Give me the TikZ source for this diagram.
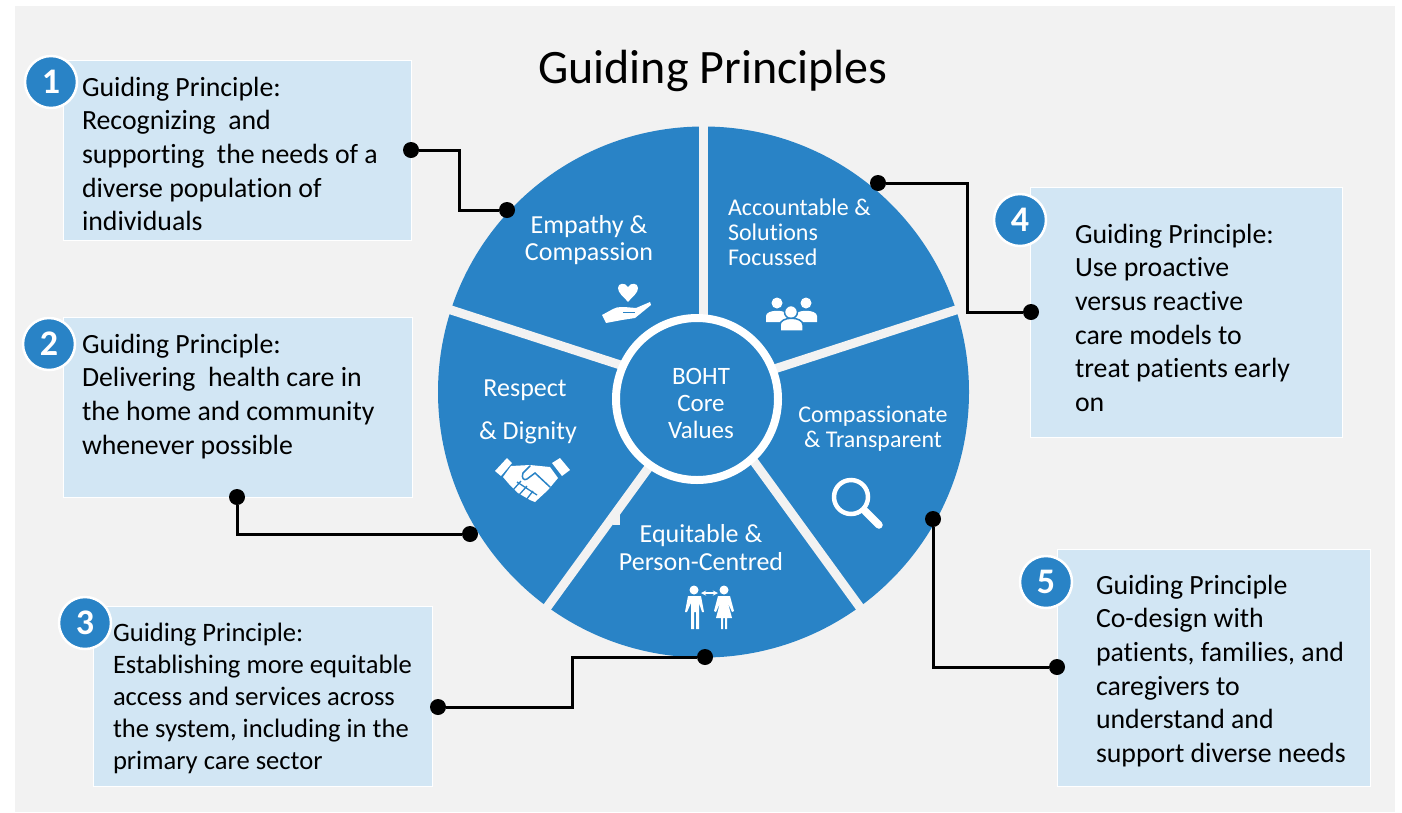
\documentclass[tikz,border=0pt]{standalone}
\usepackage{fontspec}
\setmainfont[RawFeature={-liga,-clig,-dlig}]{Carlito}
\definecolor{wheelblue}{HTML}{2983C6}
\definecolor{boxblue}{HTML}{D2E6F4}
\definecolor{pagegray}{HTML}{F2F2F2}
\begin{document}
\begin{tikzpicture}[x=1pt,y=-1pt]
	\tikzstyle{every node}=[inner sep=0pt,outer sep=0pt]
	\tikzstyle{infobox}=[rectangle,fill=boxblue,draw=white,line width=1pt,anchor=north west]
	\tikzstyle{boxtext}=[anchor=north west,align=left,font=\fontsize{27.8}{33.6}\selectfont]
	\tikzstyle{wheeltext}=[text=white,align=center,font=\fontsize{26}{27}\selectfont]
	\tikzstyle{smalltext}=[text=white,font=\fontsize{24}{25}\selectfont]
	\tikzstyle{badge}=[circle,fill=wheelblue,draw=white,line width=2.5pt,minimum size=52pt,text=white,font=\fontsize{36}{36}\selectfont\bfseries]
	\tikzstyle{pin}=[circle,fill=black,minimum size=16pt]
	\tikzstyle{link}=[black,line width=3pt]
	\tikzstyle{icon}=[fill=white,draw=none]

	\useasboundingbox (0,0) rectangle (1402,812);
	\fill[white] (0,0) rectangle (1402,812);
	\fill[pagegray] (15,6) rectangle (1395,812);

	\node[font=\fontsize{48}{50}\selectfont] (title) at (713,71) {Guiding Principles};

	%Kreis
	\coordinate (hub) at (703.5,392);
	\fill[wheelblue] (hub) circle (265.5);
	\foreach \ang in {-90,-162,-234,-306,-18}
		\draw[pagegray,line width=9pt] (hub) -- +(\ang:275);
	\fill[pagegray] (613,513) rectangle (620,525);
	\draw[fill=wheelblue,draw=white,line width=8pt] (697,399) circle (81);

	%Kaesten
	\node[infobox,minimum width=348pt,minimum height=180pt] (box1) at (63,60) {};
	\node[infobox,minimum width=349pt,minimum height=180pt] (box2) at (63,317) {};
	\node[infobox,minimum width=339pt,minimum height=180pt] (box3) at (93,606) {};
	\node[infobox,minimum width=312pt,minimum height=250pt] (box4) at (1030,187) {};
	\node[infobox,minimum width=313pt,minimum height=237pt] (box5) at (1057,549) {};

	\node[boxtext] (text1) at (82,77) {Guiding Principle:\\Recognizing~ and\\supporting~ the needs of a\\diverse population of\\individuals};
	\node[boxtext] (text2) at (82,334) {Guiding Principle:\\Delivering~ health care in\\the home and community\\whenever possible};
	\node[boxtext,font=\fontsize{26.6}{32}\selectfont] (text3) at (113,623) {Guiding Principle:\\Establishing more equitable\\access and services across\\the system, including in the\\primary care sector};
	\node[boxtext] (text4) at (1075,224) {Guiding Principle:\\Use proactive\\versus reactive\\care models to\\treat patients early\\on};
	\node[boxtext] (text5) at (1096,575) {Guiding Principle\\Co-design with\\patients, families, and\\caregivers to\\understand and\\support diverse needs};

	%Nummern
	\node[badge] (num1) at (51,82) {1};
	\node[badge] (num2) at (49,344) {2};
	\node[badge] (num3) at (85,623) {3};
	\node[badge] (num4) at (1020,220) {4};
	\node[badge] (num5) at (1046,582) {5};

	%Text im Kreis
	\node[wheeltext] (empathy) at (589,240) {Empathy \&\\Compassion};
	\node[smalltext,align=left,anchor=west] (account) at (728,232) {Accountable \&\\Solutions\\Focussed};
	\node[wheeltext] (respect) at (525,390) {Respect};
	\node[wheeltext] (dignity) at (528,433) {\& Dignity};
	\node[smalltext,align=center] (transp) at (873,429) {Compassionate\\\& Transparent};
	\node[wheeltext] (equit) at (701,548) {Equitable \&\\[1pt]Person-Centred};
	\node[wheeltext,font=\fontsize{25}{27}\selectfont] (core) at (701,403) {BOHT\\Core\\Values};

	%Symbole
	\fill[icon] (628,302) .. controls (623,296) and (618,293) .. (618,288) .. controls (618,283) and (625,282) .. (628,287) .. controls (631,282) and (638,283) .. (638,288) .. controls (638,293) and (633,296) .. (628,302) -- cycle;
	\fill[icon] (602,315) -- (613,309) .. controls (618,306) and (624,307) .. (636,308) -- (650,302) -- (651,305) -- (635,318) -- (622,320) -- (606,323) -- cycle;
	\draw[wheelblue,line width=1.5pt] (623,312.5) -- (635,312.5);

	\fill[icon] (777,303) circle (5.5) (806,303) circle (5.5);
	\fill[icon] (766,322) -- (766,316) .. controls (766,309) and (788,309) .. (788,316) -- (788,322) -- cycle;
	\fill[icon] (795,322) -- (795,316) .. controls (795,309) and (817,309) .. (817,316) -- (817,322) -- cycle;
	\draw[icon,draw=wheelblue,line width=1.5pt] (791,312) circle (6.5);
	\draw[icon,draw=wheelblue,line width=1.5pt] (780,331) -- (780,325) .. controls (780,316) and (803,316) .. (803,325) -- (803,331) -- cycle;

	\fill[icon] (495,471) -- (507,458) -- (512,463) -- (501,476) -- cycle;
	\fill[icon] (552,463) -- (560,458) -- (570,470) -- (562,476) -- cycle;
	\fill[icon] (511,466) -- (530,465) -- (550,467) -- (558,478) -- (548,490) -- (535,502) -- (530,500) -- (518,493) -- (509,484) -- (503,477) -- cycle;
	\draw[wheelblue,line width=1.5pt,line cap=round] (530,466) -- (523,473) .. controls (521,478) and (524,481) .. (527,479) -- (535,473) -- (550,487);
	\draw[wheelblue,line width=1.3pt] (517,482) -- (537,495) (513,490) -- (521,481) (519,495) -- (527,486) (526,500) -- (533,491);

	\draw[white,line width=4.5pt] (851,497) circle (17);
	\draw[white,line width=7.5pt,line cap=round] (865,511) -- (879,525);

	\fill[icon] (694,590) circle (4.5) (724,590) circle (4.5);
	\fill[icon] (685,612) -- (688,596) -- (701,596) -- (704,612) -- (702,612) -- (699,603) -- (699,629) -- (696,629) -- (696,612) -- (694,612) -- (694,629) -- (691,629) -- (691,603) -- (687,612) -- cycle;
	\fill[icon] (714,611) -- (718,596) -- (730,596) -- (734,611) -- (732,612) -- (728,603) -- (732,618) -- (727,618) -- (727,629) -- (725,629) -- (725,618) -- (723,618) -- (723,629) -- (721,629) -- (721,618) -- (716,618) -- (720,603) -- (716,612) -- cycle;
	\draw[white,line width=1.3pt,<->,>=stealth] (701,593) -- (718,593);

	%Punkte und Linien
	\node[pin] (pin1a) at (411,150) {};
	\node[pin] (pin1b) at (507,210) {};
	\node[pin] (pin2a) at (237,497) {};
	\node[pin] (pin2b) at (470,534) {};
	\node[pin] (pin3a) at (438,707) {};
	\node[pin] (pin3b) at (705,657) {};
	\node[pin] (pin4a) at (878,183) {};
	\node[pin] (pin4b) at (1031,312) {};
	\node[pin] (pin5a) at (933,519) {};
	\node[pin] (pin5b) at (1057,667) {};
	\coordinate (bend1) at (459,180);
	\coordinate (bend3) at (572,680);
	\coordinate (bend4) at (967,250);
	\draw[link] (pin1a) -| (bend1) |- (pin1b);
	\draw[link] (pin2a) |- (pin2b);
	\draw[link] (pin3a) -| (bend3) |- (pin3b);
	\draw[link] (pin4a) -| (bend4) |- (pin4b);
	\draw[link] (pin5a) |- (pin5b);
\end{tikzpicture}
\end{document}
